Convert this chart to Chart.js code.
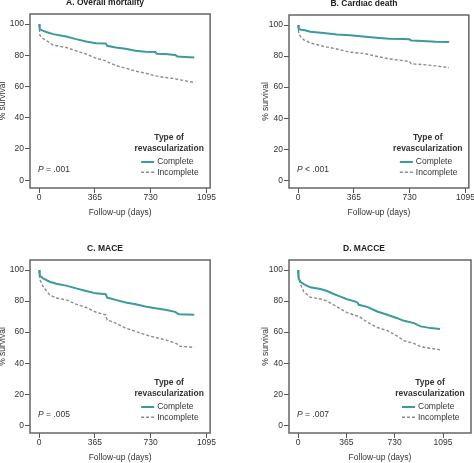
<!DOCTYPE html>
<html lang="en">
<head>
<meta charset="UTF-8">
<title>Survival by type of revascularization</title>
<script src="https://cdn.jsdelivr.net/npm/chart.js"></script>
<style>
    body {
        margin: 0;
        width: 474px;
        height: 463px;
        overflow: hidden;
        position: relative;
        background: #fff;
    }
    canvas {
        position: absolute;
    }
</style>
</head>
<body>
<canvas id="chartA"></canvas>
<canvas id="chartB"></canvas>
<canvas id="chartC"></canvas>
<canvas id="chartD"></canvas>
<script>
// axis ticks
const xTicks = [0, 365, 730, 1095];
const yTicks = [0, 20, 40, 60, 80, 100];
const seriesNames = ['Complete', 'Incomplete'];

// A. Overall mortality
const aDays = [0, 4, 20, 47, 91, 177, 242, 307, 371, 436, 445, 501, 566, 631, 695, 760, 770, 825, 890, 905, 955, 1015];
const aComplete = [100, 96.8, 96, 95, 93.6, 92.1, 90.4, 88.9, 87.8, 87.6, 86.1, 85.0, 84.2, 82.9, 82.3, 82.1, 81.0, 80.8, 80.3, 79.3, 79.0, 78.6];
const aIncomplete = [100, 93, 91, 89.5, 86.6, 85, 82.9, 80.8, 78.2, 76.5, 76, 73.5, 71.8, 69.9, 68.6, 66.9, 66.7, 65.8, 65, 64.6, 63.7, 62.6];

// B. Cardiac death
const bDays = [0, 4, 20, 37, 80, 166, 253, 339, 425, 512, 598, 685, 728, 740, 814, 901, 987];
const bComplete = [100, 97.4, 97, 96.8, 95.7, 94.9, 94.0, 93.4, 92.7, 91.9, 91.2, 91.0, 90.8, 90.0, 89.7, 89.3, 89.1];
const bIncomplete = [100, 94.4, 92, 90.5, 88.5, 86.3, 84.6, 82.5, 81.8, 79.9, 78.2, 77.1, 76.5, 75.0, 74.6, 73.7, 72.6];

// C. MACE
const cDays = [0, 4, 26, 69, 112, 177, 242, 307, 371, 436, 445, 501, 566, 631, 695, 760, 825, 890, 911, 922, 1015];
const cComplete = [100, 96.4, 94.7, 92.5, 91.2, 90.0, 88.2, 86.5, 85.0, 84.4, 82.3, 80.8, 79.1, 78.0, 76.5, 75.4, 74.4, 73.1, 71.6, 71.5, 71.2];
const cIncomplete = [100, 94, 89.3, 84.0, 82.0, 80.8, 78.0, 75.9, 72.9, 71.2, 67.9, 65.8, 62.6, 60.5, 58.3, 56.6, 55.1, 53.0, 52, 50.9, 50.2];

// D. MACCE
const dDays = [0, 4, 18, 43, 93, 169, 219, 270, 320, 371, 434, 450, 459, 522, 598, 674, 749, 800, 875, 926, 1002, 1072];
const dComplete = [100, 94.7, 92.5, 91.0, 88.9, 87.8, 86.5, 84.6, 82.9, 81.2, 79.7, 79.0, 77.6, 76.3, 73.3, 71.2, 69.0, 67.3, 65.8, 63.7, 62.6, 62.0];
const dIncomplete = [100, 96, 91, 86.1, 82.5, 81.4, 80.1, 77.5, 75, 72.6, 70.7, 70.4, 70.3, 66.5, 63, 61, 57.5, 54.5, 52.8, 50.6, 49.6, 48.6];

const panels = [
    { id: 'chartA', title: 'A. Overall mortality', p: ' = .001', days: aDays, complete: aComplete, incomplete: aIncomplete,
      left: -2, top: -2, height: 220, xMin: -60, xMax: 1119, yPad: 0 },
    { id: 'chartB', title: 'B. Cardiac death', p: ' < .001', days: bDays, complete: bComplete, incomplete: bIncomplete,
      left: 257, top: -1, height: 219, xMin: -60, xMax: 1117, yPad: 4 },
    { id: 'chartC', title: 'C. MACE', p: ' = .005', days: cDays, complete: cComplete, incomplete: cIncomplete,
      left: -2, top: 244, height: 219, xMin: -60, xMax: 1119, yPad: 0 },
    { id: 'chartD', title: 'D. MACCE', p: ' = .007', days: dDays, complete: dComplete, incomplete: dIncomplete,
      left: 257, top: 244, height: 219, xMin: -68, xMax: 1306, yPad: 4 }
];

const FONT = '"Liberation Sans", Arial, sans-serif';
const TEXT = '#333';
const TEAL = '#3a9b9a';
const GREY = '#8c8c8c';

// box round the plot area
const framePlugin = {
    id: 'frame',
    afterDraw(chart) {
        const { ctx, chartArea: a } = chart;
        ctx.save();
        ctx.strokeStyle = '#666';
        ctx.lineWidth = 1.5;
        ctx.strokeRect(a.left, a.top, a.right - a.left, a.bottom - a.top);
        ctx.restore();
    }
};

// legend block and P value inside the plot
const notesPlugin = {
    id: 'kmNotes',
    afterDraw(chart, args, opts) {
        const { ctx, chartArea: a } = chart;
        ctx.save();
        ctx.fillStyle = TEXT;
        ctx.textBaseline = 'middle';

        ctx.textAlign = 'center';
        ctx.font = 'bold 8.5px ' + FONT;
        ctx.fillText('Type of', a.right - 41, a.bottom - 50);
        ctx.fillText('revascularization', a.right - 41, a.bottom - 39);

        ctx.textAlign = 'left';
        ctx.font = '8.5px ' + FONT;
        const rows = [a.bottom - 26, a.bottom - 15.7];
        rows.forEach((y, i) => {
            ctx.beginPath();
            ctx.strokeStyle = i === 0 ? TEAL : GREY;
            ctx.lineWidth = i === 0 ? 2 : 1.4;
            ctx.setLineDash(i === 0 ? [] : [3, 2]);
            ctx.moveTo(a.right - 69, y);
            ctx.lineTo(a.right - 56, y);
            ctx.stroke();
            ctx.fillText(seriesNames[i], a.right - 53, y);
        });
        ctx.setLineDash([]);

        const px = a.left + 8, py = a.bottom - 18.7;
        ctx.font = 'italic 8.5px ' + FONT;
        ctx.fillText('P', px, py);
        const w = ctx.measureText('P').width;
        ctx.font = '8.5px ' + FONT;
        ctx.fillText(opts.p, px + w, py);
        ctx.restore();
    }
};

panels.forEach(pn => {
    const el = document.getElementById(pn.id);
    el.width = 218;
    el.height = pn.height;
    el.style.left = pn.left + 'px';
    el.style.top = pn.top + 'px';

    new Chart(el.getContext('2d'), {
        type: 'line',
        data: {
            datasets: [
                {
                    label: seriesNames[0],
                    data: pn.days.map((d, i) => ({ x: d, y: pn.complete[i] })),
                    borderColor: TEAL,
                    borderWidth: 2
                },
                {
                    label: seriesNames[1],
                    data: pn.days.map((d, i) => ({ x: d, y: pn.incomplete[i] })),
                    borderColor: GREY,
                    borderWidth: 1.4,
                    borderDash: [3, 2]
                }
            ]
        },
        options: {
            responsive: false,
            animation: false,
            layout: { padding: { top: 0, right: 4, bottom: 0, left: 0 } },
            elements: { point: { radius: 0 }, line: { tension: 0 } },
            plugins: {
                legend: { display: false },
                tooltip: { enabled: false },
                title: {
                    display: true,
                    text: pn.title,
                    color: '#222',
                    font: { family: FONT, size: 8.5, weight: 'bold', lineHeight: '10px' },
                    padding: { top: 0, bottom: 6 }
                },
                kmNotes: { p: pn.p }
            },
            scales: {
                x: {
                    type: 'linear',
                    min: pn.xMin,
                    max: pn.xMax,
                    afterBuildTicks: s => { s.ticks = xTicks.map(v => ({ value: v })); },
                    afterFit: s => { s.height = 30; },
                    grid: { display: true, drawOnChartArea: false, drawTicks: true, tickLength: 5, color: '#555' },
                    border: { display: false },
                    ticks: { color: TEXT, padding: 0, font: { family: FONT, size: 8.5 }, callback: v => String(v) },
                    title: {
                        display: true,
                        text: 'Follow-up (days)',
                        color: TEXT,
                        font: { family: FONT, size: 8.5, lineHeight: '10px' },
                        padding: { top: 0, bottom: 0 }
                    }
                },
                y: {
                    min: -5,
                    max: 106.5,
                    afterBuildTicks: s => { s.ticks = yTicks.map(v => ({ value: v })); },
                    afterFit: s => { s.width = 32; },
                    grid: { display: true, drawOnChartArea: false, drawTicks: true, tickLength: 5, color: '#555' },
                    border: { display: false },
                    ticks: { color: TEXT, padding: 1, font: { family: FONT, size: 8.5 }, callback: v => String(v) },
                    title: {
                        display: true,
                        text: '% survival',
                        color: TEXT,
                        font: { family: FONT, size: 8.5, lineHeight: '10px' },
                        padding: { top: pn.yPad, bottom: 0 }
                    }
                }
            }
        },
        plugins: [framePlugin, notesPlugin]
    });
});
</script>
</body>
</html>
